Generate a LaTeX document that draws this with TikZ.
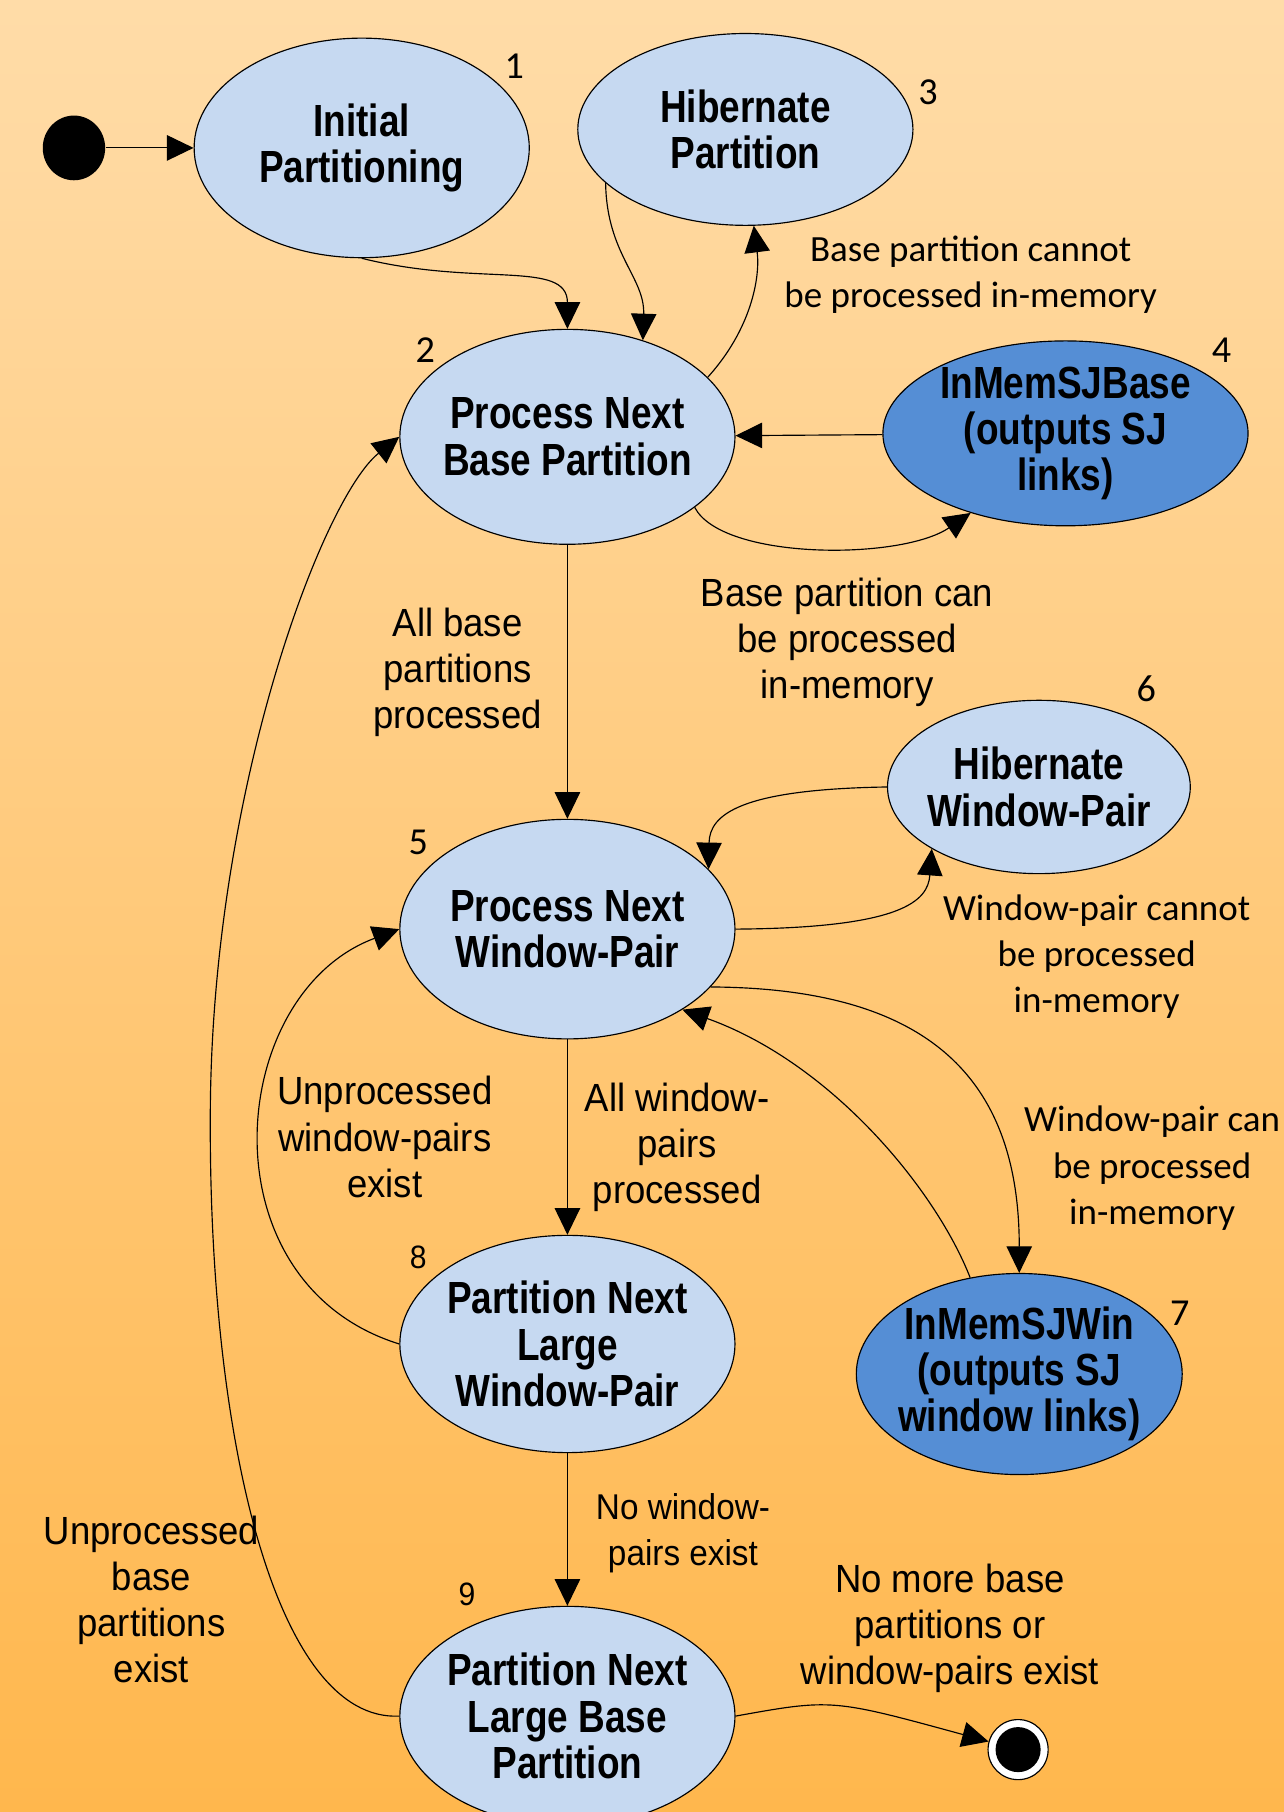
\documentclass[tikz,border=0pt]{standalone}
\usepackage{fontspec}
\setmainfont{Liberation Sans}
\newfontfamily\statefont[FakeStretch=0.82]{Liberation Sans}
\newfontfamily\arialfont[FakeStretch=0.93]{Liberation Sans}
\newfontfamily\califont{Carlito}
\usetikzlibrary{shapes.geometric,arrows.meta}
\definecolor{statefill}{HTML}{C6D9F1}
\definecolor{memfill}{HTML}{558ED5}
\definecolor{bgtop}{HTML}{FFDCA8}
\definecolor{bgbottom}{HTML}{FFB74D}

\begin{document}
\begin{tikzpicture}[x=0.5pt,y=-0.5pt,
        state/.style={ellipse,draw,line width=0.5pt,fill=statefill,inner sep=-12pt,align=center,
            font=\statefont\bfseries\fontsize{19.5}{20}\selectfont},
        memstate/.style={state,fill=memfill},
        calnote/.style={align=center,inner sep=0pt,font=\califont\fontsize{16}{20}\selectfont},
        arinote/.style={align=center,inner sep=0pt,font=\arialfont\fontsize{17}{20}\selectfont},
        calnum/.style={inner sep=0pt,font=\califont\fontsize{16.5}{20}\selectfont},
        arinum/.style={inner sep=0pt,font=\arialfont\fontsize{14}{16}\selectfont},
        trans/.style={draw,line width=0.5pt,-{Triangle[length=11.5pt,width=11pt]}}]
    \useasboundingbox (0,0) rectangle (1111,1568);
    \shade[top color=bgtop,bottom color=bgbottom] (0,0) rectangle (1111,1568);

    \node[ellipse,fill=black,minimum width=27pt,minimum height=28pt,inner sep=0pt] (start) at (64,128) {};
    \node[state,minimum width=145pt,minimum height=95pt] (init) at (313,128) {Initial\\Partitioning};
    \node[state,minimum width=145pt,minimum height=83pt] (hibbase) at (645,112) {Hibernate\\Partition};
    \node[state,minimum width=145pt,minimum height=93pt] (procbase) at (491,378) {Process Next\\Base Partition};
    \node[memstate,minimum width=158pt,minimum height=80pt] (memsjbase) at (922,375) {InMemSJBase\\(outputs SJ\\links)};
    \node[state,minimum width=131pt,minimum height=75pt] (hibwin) at (899,681) {Hibernate\\Window-Pair};
    \node[state,minimum width=145pt,minimum height=95pt] (procwin) at (491,804) {Process Next\\Window-Pair};
    \node[memstate,minimum width=141pt,minimum height=87pt] (memsjwin) at (882,1189) {InMemSJWin\\(outputs SJ\\window links)};
    \node[state,minimum width=145pt,minimum height=94pt] (partwin) at (491,1163) {Partition Next\\Large\\Window-Pair};
    \node[state,minimum width=145pt,minimum height=95pt] (partbase) at (491,1485) {Partition Next\\Large Base\\Partition};
    \node[circle,draw,line width=0.5pt,fill=white,minimum size=26pt,inner sep=0pt] (final) at (881,1514) {};
    \node[circle,fill=black,minimum size=19.5pt,inner sep=0pt] (finaldot) at (final) {};

    \node[calnum] (num1) at (445,57) {1};
    \node[calnum] (num2) at (368,303) {2};
    \node[calnum] (num3) at (803,80) {3};
    \node[calnum] (num4) at (1057,303) {4};
    \node[calnum] (num5) at (362,729) {5};
    \node[calnum] (num6) at (992,596) {6};
    \node[calnum] (num7) at (1021,1136) {7};
    \node[arinum] (num8) at (362,1088) {8};
    \node[arinum] (num9) at (404,1380) {9};

    \node[calnote] (lblhibbase) at (840,238) {Base partition cannot\\be processed in-memory};
    \node[arinote] (lblmembase) at (733,556) {Base partition can\\be processed\\in-memory};
    \node[arinote] (lblallbase) at (396,582) {All base\\partitions\\processed};
    \node[calnote] (lblhibwin) at (949,828) {Window-pair cannot\\be processed\\in-memory};
    \node[calnote] (lblmemwin) at (997,1011) {Window-pair can\\be processed\\in-memory};
    \node[arinote] (lblunwin) at (333,984) {Unprocessed\\window-pairs\\exist};
    \node[arinote] (lblallwin) at (586,993) {All window-\\pairs\\processed};
    \node[arinote,font=\arialfont\fontsize{15.5}{20}\selectfont] (lblnowin) at (591,1327) {No window-\\pairs exist};
    \node[arinote] (lblunbase) at (131,1384) {Unprocessed\\base\\partitions\\exist};
    \node[arinote] (lbldone) at (822,1409) {No more base\\partitions or\\window-pairs exist};

    \draw[trans] (start) -- (init);
    \draw[trans] (init.south) .. controls +(100,25) and +(0,-60) .. (procbase.north);
    \draw[trans] (hibbase.201) .. controls (525,220) and (558,240) .. (procbase.52);
    \draw[trans] (procbase.23) .. controls (650,285) and (658,240) .. (hibbase.275);
    \draw[trans] (memsjbase) -- (procbase);
    \draw[trans] (procbase.-29) .. controls (625,485) and (780,485) .. (memsjbase.220);
    \draw[trans] (procbase) -- (procwin);
    \draw[trans] (hibwin.west) .. controls (640,683) and (614,705) .. (procwin.23);
    \draw[trans] (procwin.east) .. controls (780,803) and (803,780) .. (hibwin.210);
    \draw[trans] (procwin.-22) .. controls (800,855) and (882,930) .. (memsjwin.north);
    \draw[trans] (memsjwin.117) .. controls (810,1030) and (720,920) .. (procwin.-35);
    \draw[trans] (procwin) -- (partwin);
    \draw[trans] (partwin.west) .. controls (175,1110) and (195,860) .. (procwin.west);
    \draw[trans] (partwin) -- (partbase);
    \draw[trans] (partbase.west) .. controls (240,1490) and (180,1250) .. (182,960)
        .. controls (184,680) and (280,430) .. (procbase.west);
    \draw[trans] (partbase.east) .. controls (720,1470) .. (final);
\end{tikzpicture}
\end{document}
